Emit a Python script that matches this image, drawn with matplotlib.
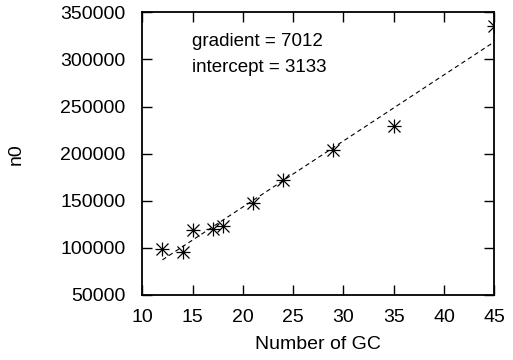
import matplotlib
matplotlib.use("Agg")
import matplotlib.pyplot as plt
import numpy as np

plt.rcParams['font.family'] = ['Liberation Sans', 'DejaVu Sans']

# measured n0 against number of GC
num_gc = [12, 14, 15, 17, 18, 21, 24, 29, 35, 45]
n0 = [99000, 95500, 118500, 119800, 123500, 148000, 172000, 204300, 229300, 335500]

# straight-line fit
gradient = 7012
intercept = 3133

fig = plt.figure(figsize=(5.13, 3.6), dpi=100)
ax = fig.add_axes([0.2774, 0.1806, 0.6862, 0.7852])

fit_x = np.array([min(num_gc), max(num_gc)])
ax.plot(fit_x, gradient * fit_x + intercept, color='black', lw=0.8,
        dashes=(4, 3))

ax.plot(num_gc, n0, ls='none', marker='+', ms=10, mew=0.9, color='black')
ax.plot(num_gc, n0, ls='none', marker='x', ms=9, mew=0.9, color='black')

ax.text(0.141, 0.898, f'gradient = {gradient}', transform=ax.transAxes,
        fontsize=13.5, va='center', ha='left')
ax.text(0.141, 0.803, f'intercept = {intercept}', transform=ax.transAxes,
        fontsize=13.5, va='center', ha='left')

ax.set_xlim(10, 45)
ax.set_ylim(50000, 350000)
ax.set_xticks(range(10, 46, 5))
ax.set_yticks(range(50000, 350001, 50000))
ax.tick_params(direction='in', length=7, width=1, top=True, right=True,
               labelsize=14)
ax.tick_params(axis='y', pad=12)
ax.tick_params(axis='x', pad=10)
for s in ax.spines.values():
    s.set_linewidth(1.3)

ax.set_xlabel('Number of GC', fontsize=14, labelpad=7)
ax.set_ylabel('n0', fontsize=14)
ax.yaxis.set_label_coords(-0.335, 0.5)

fig.savefig('out.png', dpi=100)
